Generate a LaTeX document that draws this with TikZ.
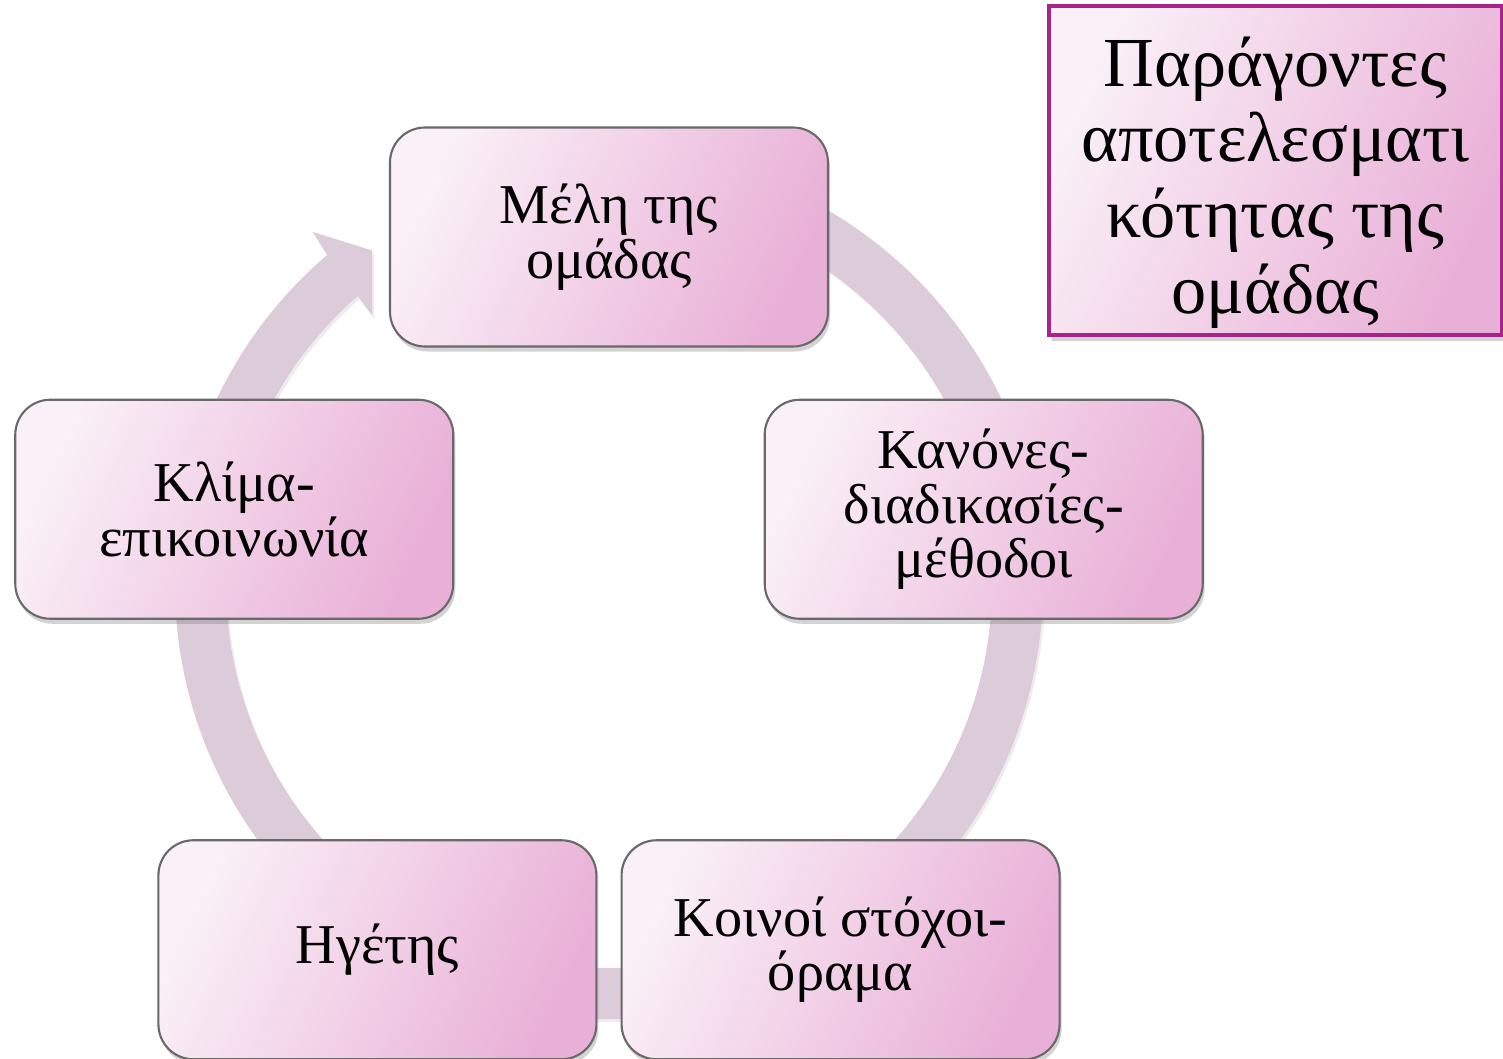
\documentclass[tikz,border=0pt]{standalone}
\usepackage{fontspec}
\setmainfont{Liberation Serif}
\usetikzlibrary{calc,shadows}

\definecolor{ringcol}{RGB}{220,203,216}
\definecolor{boxlight}{RGB}{250,240,247}
\definecolor{boxdark}{RGB}{233,176,215}
\definecolor{boxline}{RGB}{105,105,105}
\definecolor{titleline}{RGB}{168,36,138}

\tikzset{
  factor/.style={draw=boxline, line width=0.6pt, rounded corners=0.35cm,
    minimum width=4.38cm, minimum height=2.19cm, align=center,
    top color=boxlight, bottom color=boxdark, shading angle=65,
    drop shadow={opacity=0.35, shadow xshift=0.02cm, shadow yshift=-0.05cm},
    font=\fontsize{16}{15.5}\selectfont},
  titlebox/.style={draw=titleline, line width=0.9pt, inner ysep=0pt,
    minimum width=4.53cm, minimum height=3.29cm, align=center,
    top color=boxlight, bottom color=boxdark, shading angle=65,
    drop shadow={opacity=0.35, shadow xshift=0.03cm, shadow yshift=-0.06cm},
    font=\fontsize{20}{21.6}\selectfont}
}

\begin{document}
\begin{tikzpicture}
\useasboundingbox (0,0) rectangle (15.03,10.58);

% centres
\coordinate (O) at (6.09,4.73);   % ring
\coordinate (C) at (6.09,4.27);   % boxes
\pgfmathsetmacro{\R}{3.94}        % box circle radius
\pgfmathsetmacro{\Ri}{3.83}       % ring inner radius
\pgfmathsetmacro{\Ro}{4.34}       % ring outer radius

% ring arrow
\fill[ringcol, drop shadow={opacity=0.15, shadow xshift=0.02cm, shadow yshift=-0.03cm}]
  ($(O)+(90:\Ri)$) arc[start angle=90, end angle=-229, radius=\Ri]
  -- ($(O)+(131.3:3.59)$) -- ($(O)+(125.3:4.10)$) -- ($(O)+(130:4.61)$)
  -- ($(O)+(130.5:\Ro)$) arc[start angle=130.5, end angle=450, radius=\Ro] -- cycle;

% factors
\node[factor] (members) at ($(C)+(90:\R)$) {Μέλη της\\ομάδας};
\node[factor] (rules) at ($(C)+(18:\R)$) {Κανόνες-\\διαδικασίες-\\μέθοδοι};
\node[factor] (goals) at ($(C)+(-54:\R)$) {Κοινοί στόχοι-\\όραμα};
\node[factor] (leader) at ($(C)+(-126:\R)$) {Ηγέτης};
\node[factor] (climate) at ($(C)+(162:\R)$) {Κλίμα-\\επικοινωνία};

% heading
\node[titlebox] (heading) at (12.755,8.875)
  {\rule{0pt}{21pt}Παράγοντες\\αποτελεσματι\\κότητας της\\ομάδας};

\end{tikzpicture}
\end{document}
